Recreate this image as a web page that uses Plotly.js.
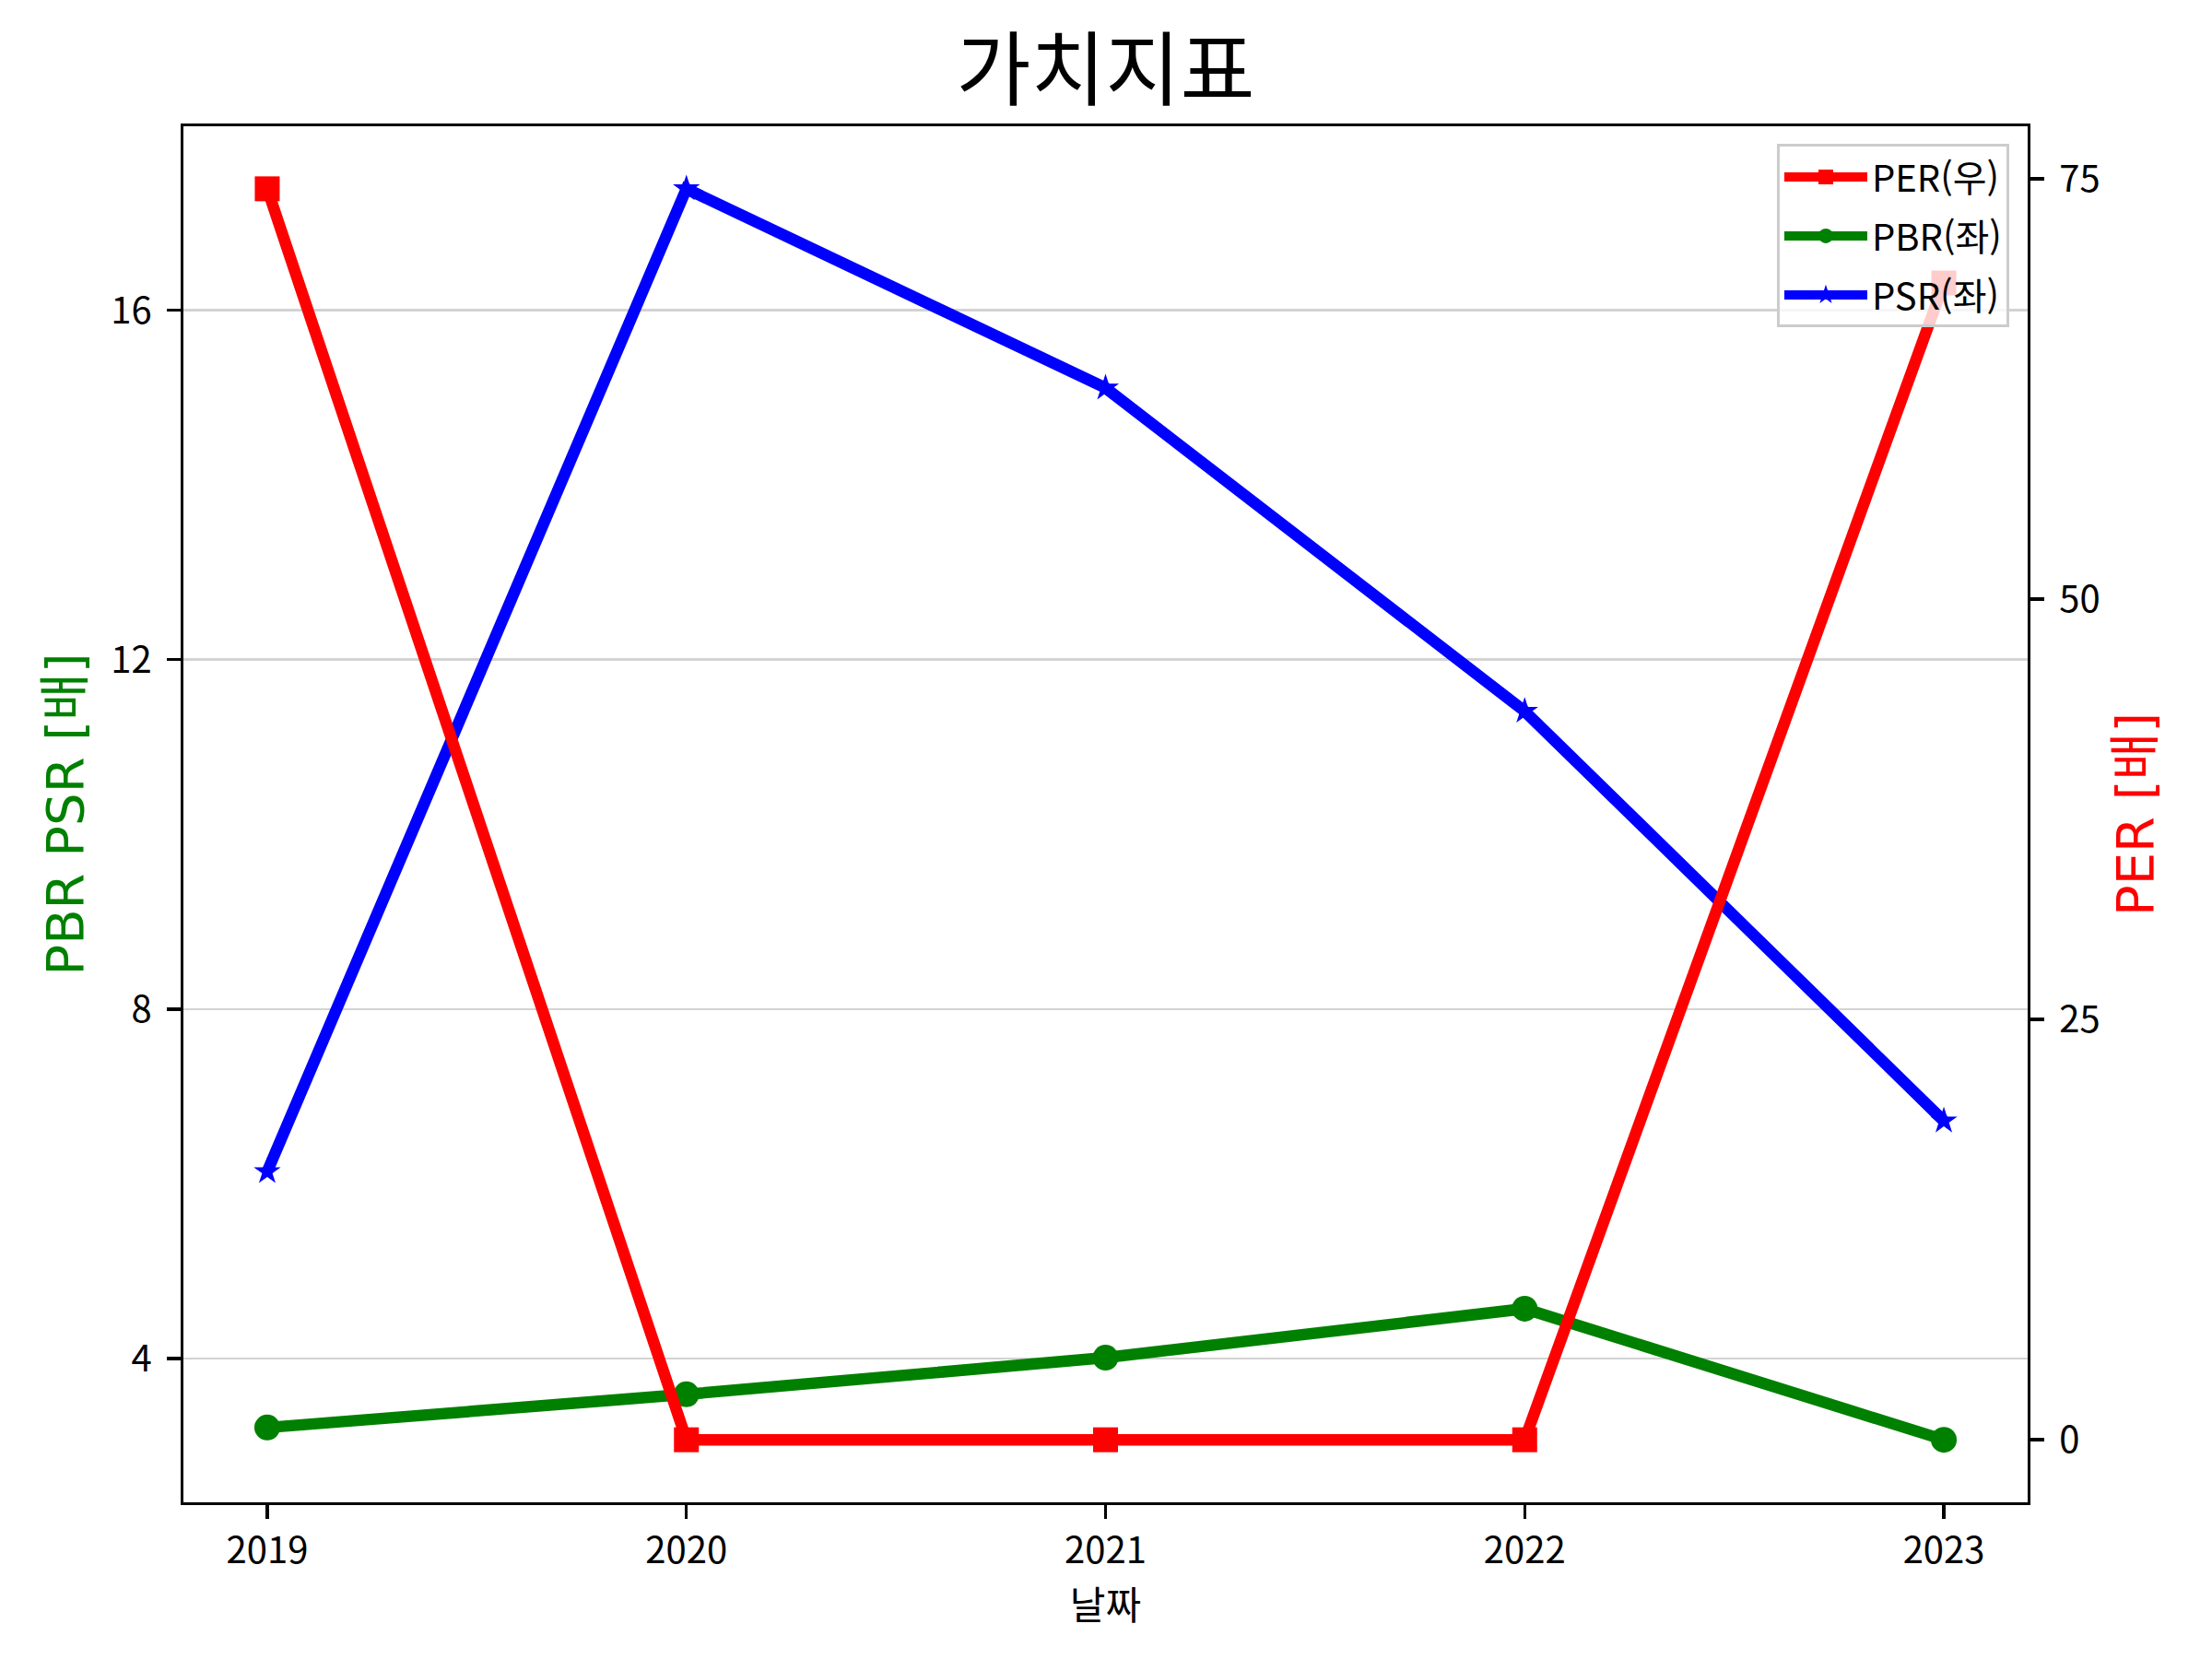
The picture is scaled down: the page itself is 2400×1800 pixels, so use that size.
<!DOCTYPE html>
<html lang="ko">
    <head>
        <meta charset="UTF-8" />
        <script src="https://cdn.plot.ly/plotly-3.0.1.min.js"></script>
        <title>가치지표</title>
        <style>
            body { margin: 0; background: #ffffff; }
        </style>
    </head>
    <body>
        <div id="graph"></div>
    </body>
    <script>
        // Values
        const years = [2019, 2020, 2021, 2022, 2023];
        const per = [74.4, 0, 0, 0, 68.8];
        const pbr = [3.21, 3.59, 4.01, 4.57, 3.07];
        const psr = [6.14, 17.39, 15.11, 11.41, 6.72];
        const leftTicks = [4, 8, 12, 16];
        const rightTicks = [0, 25, 50, 75];

        // matplotlib style auto range: 5% margin on each side
        function padRange(values) {
            const lo = Math.min(...values);
            const hi = Math.max(...values);
            const m = (hi - lo) * 0.05;
            return [lo - m, hi + m];
        }

        const tickFont = { family: "Noto Sans CJK KR, sans-serif", size: 40, color: "#000" };
        const lineW = 12.5;

        const data = [
            {
                x: years, y: per, name: "PER(우)", yaxis: "y2", legendgroup: "a",
                mode: "lines+markers", type: "scatter",
                line: { color: "#ff0000", width: lineW },
                marker: { symbol: "square", size: 27, color: "#ff0000" },
            },
            {
                x: years, y: pbr, name: "PBR(좌)", legendgroup: "b",
                mode: "lines+markers", type: "scatter",
                line: { color: "#008000", width: lineW },
                marker: { symbol: "circle", size: 28, color: "#008000" },
            },
            {
                x: years, y: psr, name: "PSR(좌)", legendgroup: "c",
                mode: "lines+markers", type: "scatter",
                line: { color: "#0000ff", width: lineW },
                marker: { symbol: "star", size: 22, color: "#0000ff" },
            },
        ];

        const layout = {
            width: 2400,
            height: 1800,
            paper_bgcolor: "#ffffff",
            plot_bgcolor: "#ffffff",
            margin: { l: 199, r: 200, t: 137, b: 170 },
            showlegend: true,
            title: {
                text: "가치지표",
                font: { family: "Noto Sans CJK KR, sans-serif", size: 88, color: "#000" },
                x: 0.5, xref: "paper", xanchor: "center",
                y: 1 - 76 / 1800, yanchor: "middle",
            },
            xaxis: {
                range: padRange(years),
                tickvals: years,
                ticktext: years.map(String),
                showgrid: false,
                zeroline: false,
                showline: true, mirror: true,
                linecolor: "#000", linewidth: 3.3,
                ticks: "outside", ticklen: 15, tickwidth: 3.3, tickcolor: "#000",
                ticklabelstandoff: 0,
                tickfont: tickFont,
                title: {
                    text: "날짜",
                    font: { family: "Noto Sans CJK KR, sans-serif", size: 42, color: "#000" },
                    standoff: 6,
                },
            },
            yaxis: {
                range: padRange(pbr.concat(psr)),
                tickvals: leftTicks,
                showgrid: true, gridcolor: "#d3d3d3", gridwidth: 2.5,
                zeroline: false,
                showline: true, mirror: true,
                linecolor: "#000", linewidth: 3.3,
                ticks: "outside", ticklen: 15, tickwidth: 3.3, tickcolor: "#000",
                ticklabelstandoff: 8,
                tickfont: tickFont,
                title: {
                    text: "PBR PSR [배]",
                    font: { family: "DejaVu Sans, Noto Sans CJK KR, sans-serif", size: 56, color: "#008000" },
                    standoff: 12,
                },
            },
            yaxis2: {
                overlaying: "y",
                side: "right",
                range: padRange(per),
                tickvals: rightTicks,
                showgrid: false,
                zeroline: false,
                showline: true,
                linecolor: "#000", linewidth: 3.3,
                ticks: "outside", ticklen: 15, tickwidth: 3.3, tickcolor: "#000",
                ticklabelstandoff: 8,
                tickfont: tickFont,
                title: {
                    text: "PER [배]",
                    font: { family: "DejaVu Sans, Noto Sans CJK KR, sans-serif", size: 56, color: "#ff0000" },
                    standoff: 20,
                },
            },
            legend: {
                x: 0.99, xanchor: "right",
                y: 0.987, yanchor: "top",
                bgcolor: "rgba(255,255,255,0.8)",
                bordercolor: "#cccccc", borderwidth: 3,
                font: { family: "Noto Sans CJK KR, sans-serif", size: 40, color: "#000" },
                itemwidth: 90,
                tracegroupgap: 9,
            },
        };

        Plotly.newPlot("graph", data, layout, { staticPlot: true });
    </script>
</html>
